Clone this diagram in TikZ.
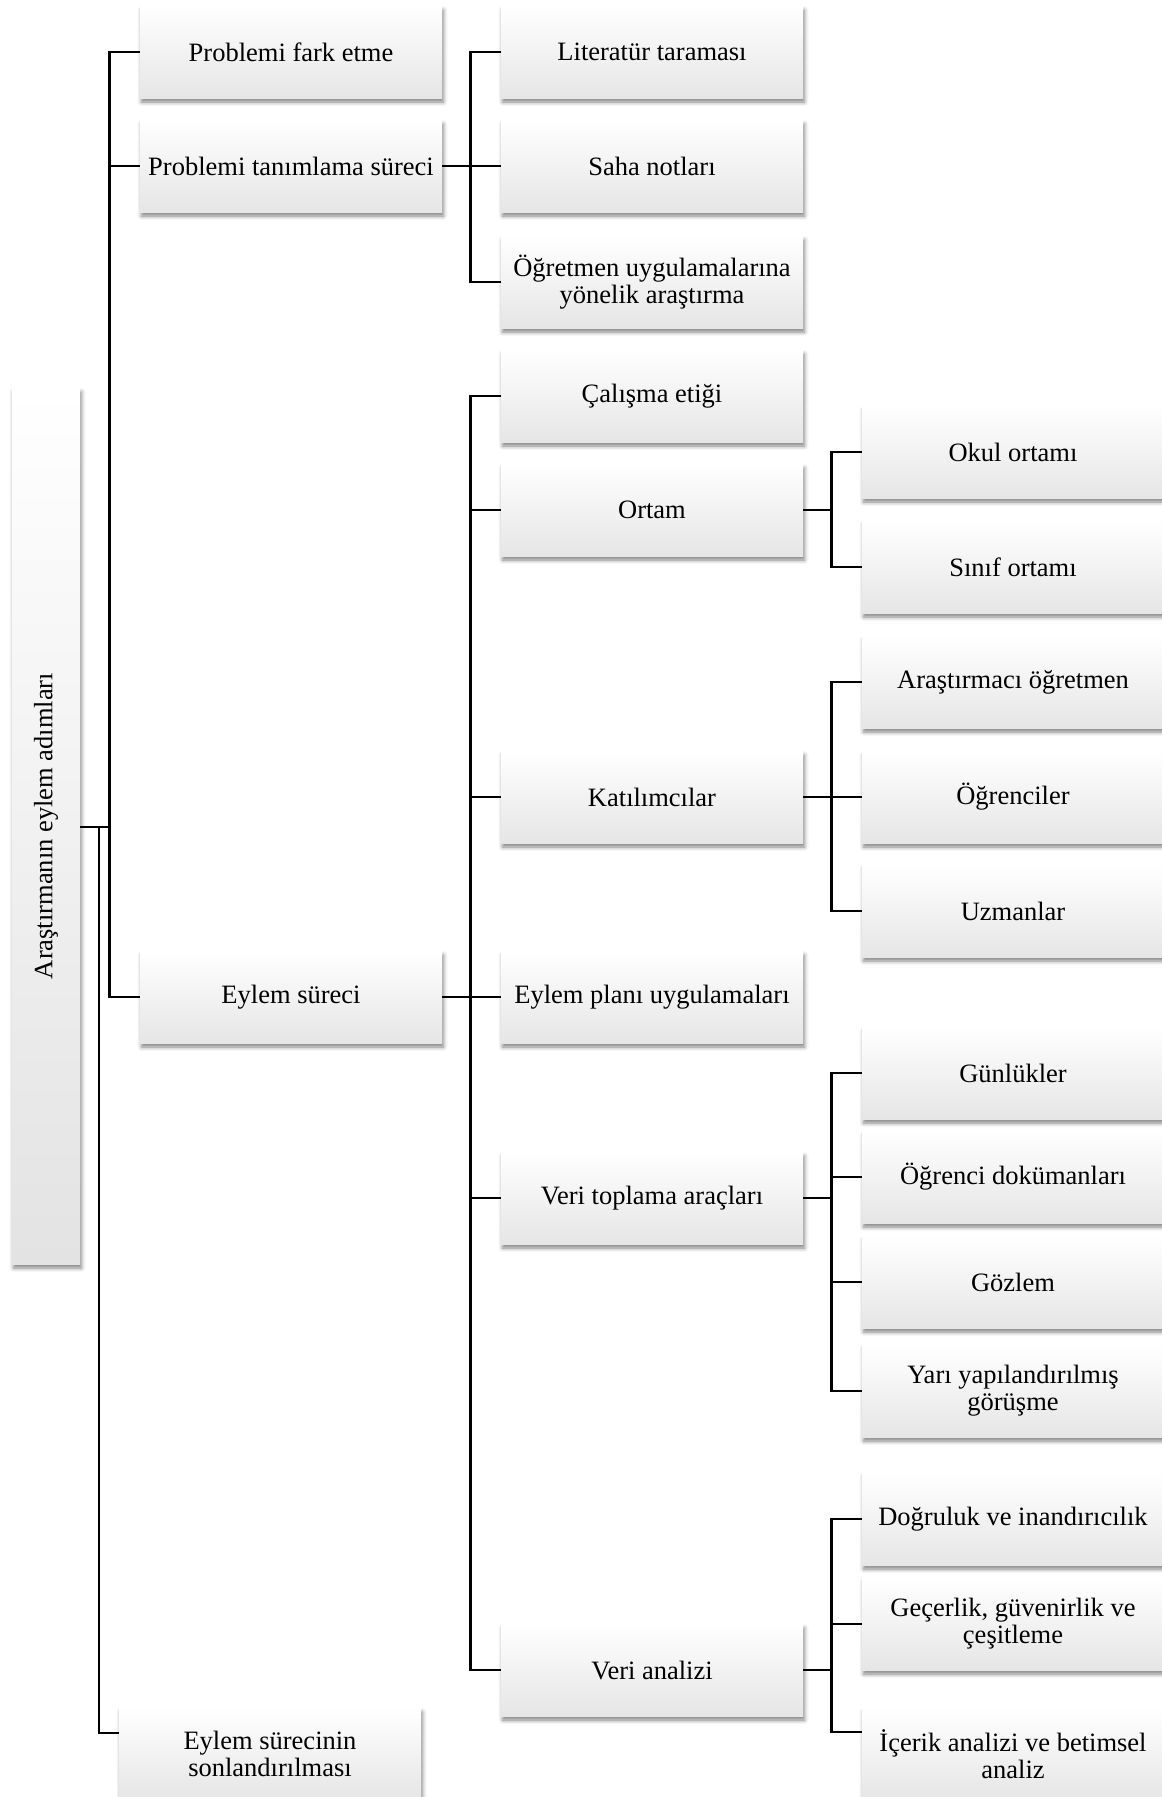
\documentclass[tikz,border=0pt]{standalone}
\usepackage{fontspec}
\setmainfont{Liberation Serif}
\usetikzlibrary{shadows.blur}
\begin{document}
\begin{tikzpicture}[x=1pt,y=-1pt,
  bx/.style={minimum width=302pt, minimum height=92pt, inner sep=0pt, align=center,
    font=\fontsize{26.5}{27}\selectfont,
    top color=white, middle color=white, bottom color=black!10,
    blur shadow={shadow xshift=1.5pt, shadow yshift=-4pt, shadow blur radius=4pt, shadow opacity=50}},
  rootbx/.style={minimum width=68pt, minimum height=876pt, inner sep=0pt,
    font=\fontsize{26.5}{27}\selectfont,
    top color=white, middle color=white!96!black, bottom color=black!11,
    blur shadow={shadow xshift=1.5pt, shadow yshift=-4pt, shadow blur radius=4pt, shadow opacity=50}},
  ln/.style={line width=2.7pt, line join=miter}]
\useasboundingbox (0,0) rectangle (1162,1797);
\clip (0,0) rectangle (1162,1797);

% root
\node[rootbx] (root) at (46,826) {\rotatebox{90}{Araştırmanın eylem adımları}};

% level 1
\node[bx] (pfe) at (291,52) {Problemi fark etme};
\node[bx] (pts) at (291,166) {Problemi tanımlama süreci};
\node[bx] (es) at (291,997) {Eylem süreci};
\node[bx] (son) at (270,1754) {Eylem sürecinin\\sonlandırılması};

% level 2
\node[bx] (lit) at (652,52) {Literatür taraması};
\node[bx] (saha) at (652,166) {Saha notları};
\node[bx] (ogr) at (652,282) {Öğretmen uygulamalarına\\yönelik araştırma};
\node[bx] (cal) at (652,396) {Çalışma etiği};
\node[bx] (ortam) at (652,510) {Ortam};
\node[bx] (kat) at (652,797) {Katılımcılar};
\node[bx] (eyp) at (652,997) {Eylem planı uygulamaları};
\node[bx] (vt) at (652,1198) {Veri toplama araçları};
\node[bx] (va) at (652,1670) {Veri analizi};

% level 3
\node[bx] (okul) at (1013,452) {Okul ortamı};
\node[bx] (sinif) at (1013,567) {Sınıf ortamı};
\node[bx] (arog) at (1013,682) {Araştırmacı öğretmen};
\node[bx] (ogrc) at (1013,797) {Öğrenciler};
\node[bx] (uzm) at (1013,911) {Uzmanlar};
\node[bx] (gun) at (1013,1073) {Günlükler};
\node[bx] (odok) at (1013,1177) {Öğrenci dokümanları};
\node[bx] (goz) at (1013,1282) {Gözlem};
\node[bx] (yari) at (1013,1391) {Yarı yapılandırılmış\\görüşme};
\node[bx] (dog) at (1013,1519) {Doğruluk ve inandırıcılık};
\node[bx] (gec) at (1013,1624) {Geçerlik, güvenirlik ve\\çeşitleme};
\node[bx] (ic) at (1013,1754) {İçerik analizi ve betimsel\\analiz};

% bus points
\coordinate (v1) at (110,827);
\coordinate (v2) at (99,827);
\coordinate (sonc) at (119,1733);
\coordinate (icc) at (862,1732);

% connectors: root -> level 1
\draw[ln] (root.east |- v1) -- (v1);
\draw[ln] (pfe.west) -- ++(-30,0) |- (es.west);
\draw[ln] (pts.west) -- ++(-30,0);
\draw[ln] (v2) |- (sonc);

% Problemi tanimlama -> level 2
\draw[ln] (pts.east) -- ++(29,0);
\draw[ln] (lit.west) -- ++(-30,0) |- (ogr.west);
\draw[ln] (saha.west) -- ++(-30,0);

% Eylem sureci -> level 2
\draw[ln] (es.east) -- (eyp.west);
\draw[ln] (cal.west) -- ++(-30,0) |- (va.west);
\draw[ln] (ortam.west) -- ++(-30,0);
\draw[ln] (kat.west) -- ++(-30,0);
\draw[ln] (vt.west) -- ++(-30,0);

% Ortam -> level 3
\draw[ln] (ortam.east) -- ++(29,0);
\draw[ln] (okul.west) -- ++(-30,0) |- (sinif.west);

% Katilimcilar -> level 3
\draw[ln] (kat.east) -- (ogrc.west);
\draw[ln] (arog.west) -- ++(-30,0) |- (uzm.west);

% Veri toplama -> level 3
\draw[ln] (vt.east) -- ++(29,0);
\draw[ln] (gun.west) -- ++(-30,0) |- (yari.west);
\draw[ln] (odok.west) -- ++(-30,0);
\draw[ln] (goz.west) -- ++(-30,0);

% Veri analizi -> level 3
\draw[ln] (va.east) -- ++(29,0);
\draw[ln] (dog.west) -- ++(-30,0) |- (icc);
\draw[ln] (gec.west) -- ++(-30,0);
\end{tikzpicture}
\end{document}
